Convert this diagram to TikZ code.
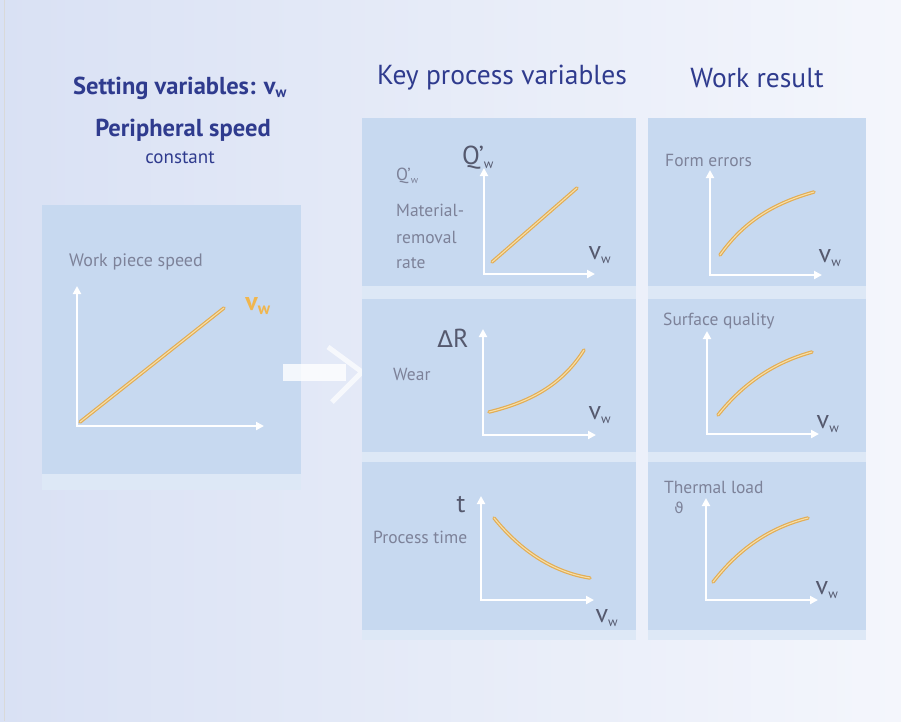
\documentclass[tikz,border=0pt]{standalone}
\usepackage{fontspec}
\setmainfont{PT Sans}
\newfontfamily\dejavu{DejaVu Sans}
\usetikzlibrary{arrows.meta}
\definecolor{titleblue}{HTML}{2F3B8E}
\definecolor{labelgray}{HTML}{7D8299}
\definecolor{axislbl}{HTML}{55596E}
\definecolor{panel}{HTML}{C7D9F0}
\definecolor{panelstrip}{HTML}{DDE8F6}
\definecolor{curveout}{HTML}{E2AD55}
\definecolor{curvein}{HTML}{F7DFA8}
\definecolor{bgleft}{HTML}{D9E1F4}
\definecolor{bgright}{HTML}{F4F6FC}
\definecolor{vworange}{HTML}{F0B64E}
\tikzset{
  axis/.style={draw=white, line width=2.6pt, {Triangle[length=8pt,width=8pt]}-{Triangle[length=8pt,width=8pt]}},
  curve/.style={draw=curveout, line width=1.2pt, double=curvein, double distance=1.1pt, line cap=round},
  ttl/.style={text=titleblue, font=\fontsize{27.5}{29}\selectfont, inner sep=0pt},
  sttl/.style={text=titleblue, font=\bfseries\fontsize{24.5}{26}\selectfont, inner sep=0pt},
  lbl/.style={text=labelgray, font=\fontsize{17.5}{19}\selectfont, inner sep=0pt, anchor=west},
  vlbl/.style={text=axislbl, font=\fontsize{26}{28}\selectfont, inner sep=0pt},
  panelbox/.style={fill=panel, draw=none},
  stripbox/.style={fill=panelstrip, draw=none}
}
\newcommand{\vwlbl}{v\textsubscript{\fontsize{13}{14}\selectfont w}}
\begin{document}
\begin{tikzpicture}[x=1pt,y=-1pt]
\useasboundingbox (0,0) rectangle (901,721);
% background
\shade[left color=bgleft, right color=bgright] (0,0) rectangle (901,721);
\draw[color=black!15, line width=1pt] (4,0) -- (4,721);

% titles
\node[sttl] (t1) at (180,88) {Setting variables: v\textsubscript{\fontsize{15}{16}\selectfont w}};
\node[sttl] (t2) at (183,130) {Peripheral speed};
\node[text=titleblue, font=\fontsize{19}{21}\selectfont, inner sep=0pt] (t3) at (180,158) {constant};
\node[ttl] (k1) at (502,78) {Key process variables};
\node[ttl] (k2) at (757,78) {Work result};

% left panel
\fill[stripbox] (42,205) rectangle (301,490);
\fill[panelbox] (42,205) rectangle (301,474);
\node[lbl, font=\fontsize{18}{20}\selectfont] (wps) at (69,262) {Work piece speed};
\coordinate (L0) at (77,426);
\coordinate (Ly) at (77,286);
\coordinate (Lx) at (264,426);
\draw[axis] (Ly) -- (L0) -- (Lx);
\coordinate (La) at (80,422);
\coordinate (Lb) at (224,308);
\draw[curve] (La) -- (Lb);
\node[text=vworange, font=\bfseries\fontsize{26}{28}\selectfont, inner sep=0pt] (vwL) at (258,306) {v\textsubscript{\fontsize{17}{18}\selectfont w}};

% arrow between
\fill[white, opacity=0.8] (283,364) rectangle (346,381);
\draw[white, opacity=0.7, line width=5pt] (328,347) -- (362,372) -- (332,402);

% middle column
\fill[stripbox] (362,118) rectangle (636,640);
\fill[panelbox] (362,118) rectangle (636,286);
\fill[panelbox] (362,299) rectangle (636,452);
\fill[panelbox] (362,462) rectangle (636,630);

% middle 1
\node[vlbl] (q1) at (478,158) {Q’\textsubscript{\fontsize{13}{14}\selectfont w}};
\node[lbl] (q2) at (396,176) {Q’\textsubscript{\fontsize{10}{11}\selectfont w}};
\node[lbl] (q3) at (396,210) {Material-};
\node[lbl] (q4) at (396,237) {removal};
\node[lbl] (q5) at (396,263) {rate};
\coordinate (A0) at (484,274);
\draw[axis] (484,168) -- (A0) -- (595,274);
\draw[curve] (492,262) -- (577,188);
\node[vlbl] (va) at (600,255) {\vwlbl};

% middle 2
\node[vlbl] (dr) at (453,338) {{\dejavu\fontsize{23}{25}\selectfont Δ}R};
\node[lbl] (wear) at (393,374) {Wear};
\coordinate (B0) at (483,435);
\draw[axis] (483,329) -- (B0) -- (596,435);
\draw[curve] (489,412) .. controls (530,402) and (562,385) .. (584,350);
\node[vlbl] (vb) at (600,415) {\vwlbl};

% middle 3
\node[vlbl] (tt) at (461,505) {t};
\node[lbl] (pt) at (373,537) {Process time};
\coordinate (C0) at (481,600);
\draw[axis] (481,496) -- (C0) -- (594,600);
\draw[curve] (494,518) .. controls (520,550) and (552,572) .. (590,578);
\node[vlbl] (vc) at (607,618) {\vwlbl};

% right column
\fill[stripbox] (648,118) rectangle (866,640);
\fill[panelbox] (648,118) rectangle (866,286);
\fill[panelbox] (648,299) rectangle (866,452);
\fill[panelbox] (648,462) rectangle (866,630);

% right 1
\node[lbl] (fe) at (665,160) {Form errors};
\coordinate (D0) at (710,275);
\draw[axis] (710,170) -- (D0) -- (822,275);
\draw[curve] (720,255) .. controls (745,220) and (775,203) .. (814,192);
\node[vlbl] (vd) at (830,258) {\vwlbl};

% right 2
\node[lbl] (sq) at (663,321) {Surface quality};
\coordinate (E0) at (707,434);
\draw[axis] (707,331) -- (E0) -- (819,434);
\draw[curve] (718,415) .. controls (742,385) and (772,363) .. (812,352);
\node[vlbl] (ve) at (828,424) {\vwlbl};

% right 3
\node[lbl] (tl) at (664,487) {Thermal load};
\node[text=labelgray, font=\dejavu\fontsize{15}{16}\selectfont, inner sep=0pt] (th) at (679,508) {ϑ};
\coordinate (F0) at (706,600);
\draw[axis] (706,498) -- (F0) -- (818,600);
\draw[curve] (713,582) .. controls (738,550) and (768,528) .. (808,518);
\node[vlbl] (vf) at (827,590) {\vwlbl};
\end{tikzpicture}
\end{document}
